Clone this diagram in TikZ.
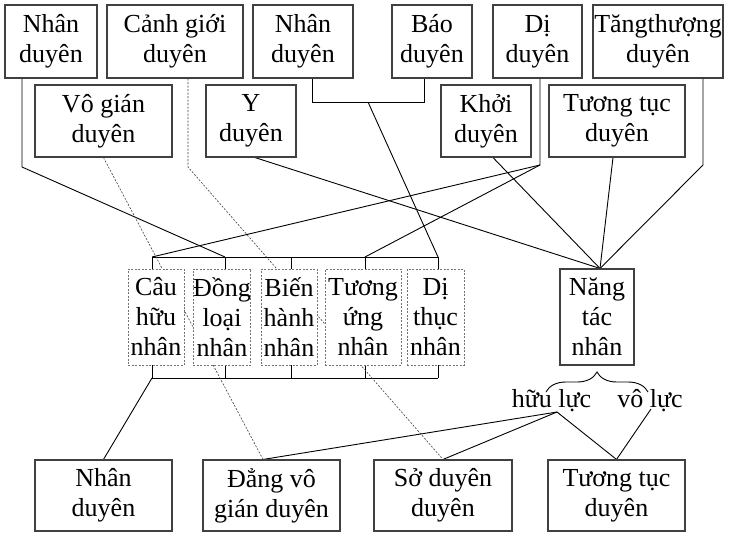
\documentclass[tikz,border=0pt]{standalone}
\usepackage{fontspec}
\setmainfont{Liberation Serif}
\usetikzlibrary{decorations.pathreplacing,backgrounds,calc}
\begin{document}
\begin{tikzpicture}[x=1pt,y=-1pt,
  box/.style={draw=black!75, line width=1.1pt, fill=white, inner sep=0pt, align=center, font=\fontsize{26}{30}\selectfont},
  dbox/.style={box, draw=black!55, dash pattern=on 2pt off 1.5pt, line width=0.8pt},
  conn/.style={draw=black, line width=0.9pt},
  dconn/.style={draw=black!75, line width=0.6pt, dash pattern=on 2pt off 1.5pt},
  lbl/.style={inner sep=0pt, font=\fontsize{26}{30}\selectfont}]
\useasboundingbox (0,0) rectangle (731,533);
% top row
\node[box, minimum width=92pt, minimum height=73pt] (n1) at (51,41.5) {Nhân\\duyên};
\node[box, minimum width=136pt, minimum height=73pt] (canh) at (175,41.5) {Cảnh giới\\duyên};
\node[box, minimum width=100pt, minimum height=73pt] (n2) at (303,41.5) {Nhân\\duyên};
\node[box, minimum width=80pt, minimum height=73pt] (bao) at (432,41.5) {Báo\\duyên};
\node[box, minimum width=89pt, minimum height=73pt] (di) at (537.5,41.5) {Dị\\duyên};
\node[box, minimum width=130pt, minimum height=73pt] (tang) at (658,41.5) {Tăngthượng\\duyên};
% second row
\node[box, minimum width=137pt, minimum height=72pt] (vogian) at (103.5,121) {Vô gián\\duyên};
\node[box, minimum width=90pt, minimum height=72pt] (yd) at (251,121) {Y\\duyên};
\node[box, minimum width=90pt, minimum height=72pt] (khoi) at (486,121) {Khởi\\duyên};
\node[box, minimum width=136pt, minimum height=72pt] (tuongtuc) at (617,121) {Tương tục\\duyên};
% middle row
\node[dbox, minimum width=56pt, minimum height=96pt] (cau) at (156,317) {Câu\\hữu\\nhân};
\node[dbox, minimum width=56pt, minimum height=96pt] (dong) at (222,317) {Đồng\\loại\\nhân};
\node[dbox, minimum width=56pt, minimum height=96pt] (bien) at (289,317) {Biến\\hành\\nhân};
\node[dbox, minimum width=76pt, minimum height=96pt] (tuongung) at (363,317) {Tương\\ứng\\nhân};
\node[dbox, minimum width=57pt, minimum height=96pt] (dithuc) at (435.5,317) {Dị\\thục\\nhân};
\node[box, minimum width=74pt, minimum height=96pt] (nangtac) at (597,317) {Năng\\tác\\nhân};
% bottom row
\node[box, minimum width=137pt, minimum height=71pt] (n3) at (103.5,495.5) {Nhân\\duyên};
\node[box, minimum width=137pt, minimum height=71pt] (dang) at (271.5,495.5) {Đẳng vô\\gián duyên};
\node[box, minimum width=138pt, minimum height=71pt] (so) at (443,495.5) {Sở duyên\\duyên};
\node[box, minimum width=137pt, minimum height=71pt] (tt2) at (616.5,495.5) {Tương tục\\duyên};
% labels
\node[lbl, anchor=base] (huu) at (551.5,407) {hữu lực};
\node[lbl, anchor=base] (vo) at (650,407) {vô lực};
% coordinates
\coordinate (tb1) at (152,257);
\coordinate (tb2) at (225,257);
\coordinate (tb3) at (291,257);
\coordinate (tb4) at (365,257);
\coordinate (tb5) at (438,257);
\coordinate (bb1) at (152,378);
\coordinate (bb2) at (225,378);
\coordinate (bb3) at (291,378);
\coordinate (bb4) at (365,378);
\coordinate (bb5) at (438,378);
\coordinate (j1) at (22,167);
\coordinate (j2) at (188,167);
\coordinate (b1) at (312,102);
\coordinate (b2) at (424,102);
\coordinate (j3) at ($(b1)!0.5!(b2)$);
\coordinate (j4) at (540,165);
\coordinate (j5) at (703,165);
\coordinate (nt) at ($(nangtac.north)+(3,0)$);
\coordinate (dvtop) at ($(dang.north)+(-8.5,0)$);
\coordinate (hl) at (557,412);
\coordinate (vl) at (651,409);
\coordinate (br1) at (546,392);
\coordinate (br2) at (648,392);
\begin{scope}[on background layer]
\fill[white] (0,0) rectangle (731,533);
% buses
\draw[conn] (tb1) -- (tb5);
\draw[conn] (bb1) -- (bb5);
\foreach \i/\n in {1/cau,2/dong,3/bien,4/tuongung,5/dithuc}{
  \draw[conn] (tb\i) -- (tb\i |- \n.north);
  \draw[conn] (bb\i) -- (bb\i |- \n.south);
}
% top connectors
\draw[conn] (j1 |- n1.south) -- (j1) -- (tb2);
\draw[dconn] (j2 |- canh.south) -- (j2) -- (so.north);
\draw[dconn] (vogian.south) -- (dvtop);
\draw[conn] (b1 |- n2.south) -- (b1) -- (b2) -- (b2 |- bao.south);
\draw[conn] (j3) -- (tb5);
\draw[conn] (j4 |- di.south) -- (j4) -- (tb1);
\draw[conn] (j4) -- (tb4);
\draw[conn] ($(yd.south)+(4,0)$) -- (nt);
\draw[conn] ($(khoi.south)+(7,0)$) -- (nt);
\draw[conn] ($(tuongtuc.south)+(-4,0)$) -- (nt);
\draw[conn] (j5 |- tang.south) -- (j5) -- (nt);
% bottom connectors
\draw[conn] (bb1) -- (n3.north);
\draw[conn] (hl) -- (dvtop);
\draw[conn] (hl) -- (so.north);
\draw[conn] (hl) -- (tt2.north);
\draw[conn] (vl) -- (tt2.north);
\draw[conn, decorate, decoration={brace, amplitude=20pt}] (br1) -- (br2);
\end{scope}
\end{tikzpicture}
\end{document}
